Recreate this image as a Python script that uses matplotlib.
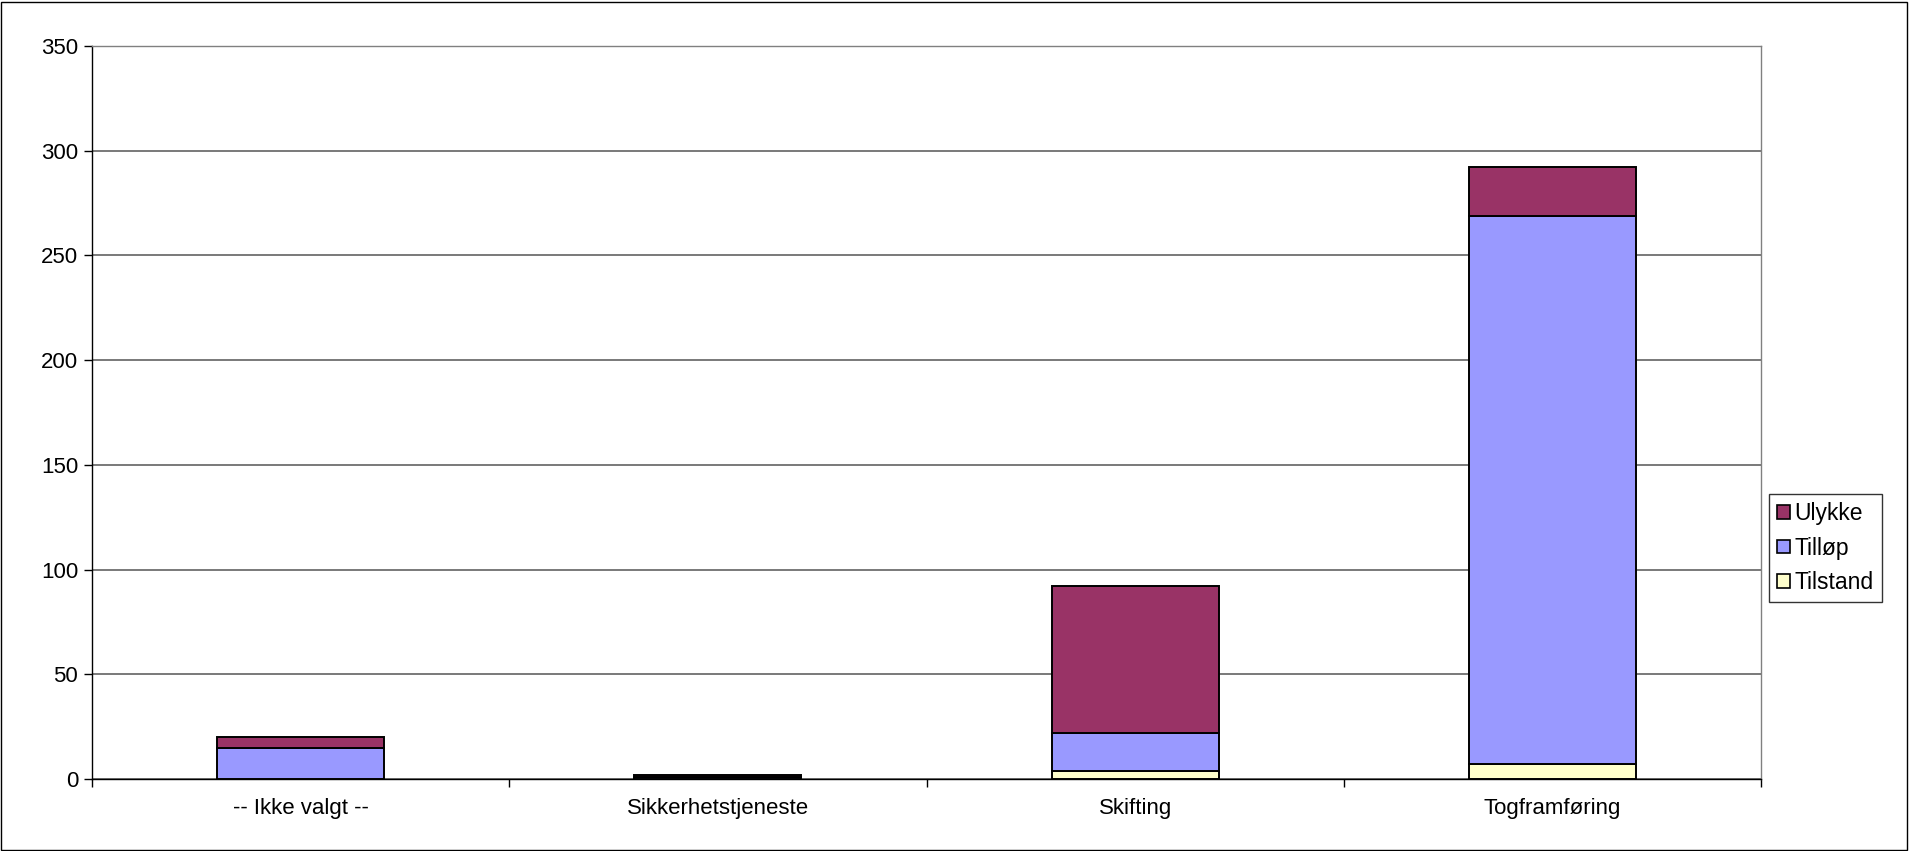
import matplotlib
matplotlib.use('Agg')
import matplotlib.pyplot as plt
import numpy as np
from matplotlib.patches import Rectangle

plt.rcParams['font.family'] = ['Liberation Sans', 'DejaVu Sans']

# Data
categories = ['-- Ikke valgt --', 'Sikkerhetstjeneste', 'Skifting', 'Togframføring']
tilstand = [0, 0, 4, 7]
tillop = [15, 1, 18, 262]
ulykke = [5, 1, 70, 23]
y_ticks = [0, 50, 100, 150, 200, 250, 300, 350]

fig = plt.figure(figsize=(19.10, 8.51), dpi=100)
# axes placement in pixels: left 92, right 1761, top 46, bottom 779
W, H = 1910, 851
ax = fig.add_axes([92 / W, 1 - 779 / H, (1761 - 92) / W, (779 - 46) / H])

x = np.arange(len(categories))
bw = 0.40
lw = 1.4
fs = 16
b1 = ax.bar(x, tilstand, bw, color='#FFFFCC', edgecolor='black', linewidth=lw, zorder=3, label='Tilstand')
b2 = ax.bar(x, tillop, bw, bottom=tilstand, color='#9999FF', edgecolor='black', linewidth=lw, zorder=3, label='Tilløp')
bottom2 = np.array(tilstand) + np.array(tillop)
b3 = ax.bar(x, ulykke, bw, bottom=bottom2, color='#993366', edgecolor='black', linewidth=lw, zorder=3, label='Ulykke')

ax.set_xlim(-0.5, len(categories) - 0.5)
ax.set_ylim(0, 350)
ax.set_yticks(y_ticks)
ax.yaxis.grid(True, color='#555555', linewidth=1.1, zorder=0)
ax.set_axisbelow(True)

ax.set_xticks(x)
ax.set_xticklabels(categories, fontsize=fs)
ax.tick_params(axis='x', length=0, pad=14)
ax.set_xticks(np.arange(len(categories) + 1) - 0.5, minor=True)
ax.tick_params(axis='x', which='minor', length=6, width=1, direction='out')
ax.tick_params(axis='y', labelsize=fs, length=6, width=1, direction='out', pad=4)

for s in ['top', 'right']:
    ax.spines[s].set_color('#808080')
    ax.spines[s].set_linewidth(1.0)
for s in ['left', 'bottom']:
    ax.spines[s].set_color('black')
    ax.spines[s].set_linewidth(1.0)

leg = ax.legend(handles=[b3, b2, b1], loc='center left', bbox_to_anchor=(1.005, 0.315),
                fontsize=fs + 0.5, frameon=True, fancybox=False, edgecolor='black',
                handlelength=0.55, handleheight=0.55, handletextpad=0.2,
                borderpad=0.35, labelspacing=0.5, borderaxespad=0)
leg.get_frame().set_linewidth(1.0)
for h in leg.legend_handles:
    h.set_linewidth(1.2)

# border round the whole chart
fig.patches.append(Rectangle((0.0005, 0.001), 0.998, 0.997, transform=fig.transFigure,
                             fill=False, edgecolor='black', linewidth=1.0))

fig.savefig('out.png', dpi=100)
